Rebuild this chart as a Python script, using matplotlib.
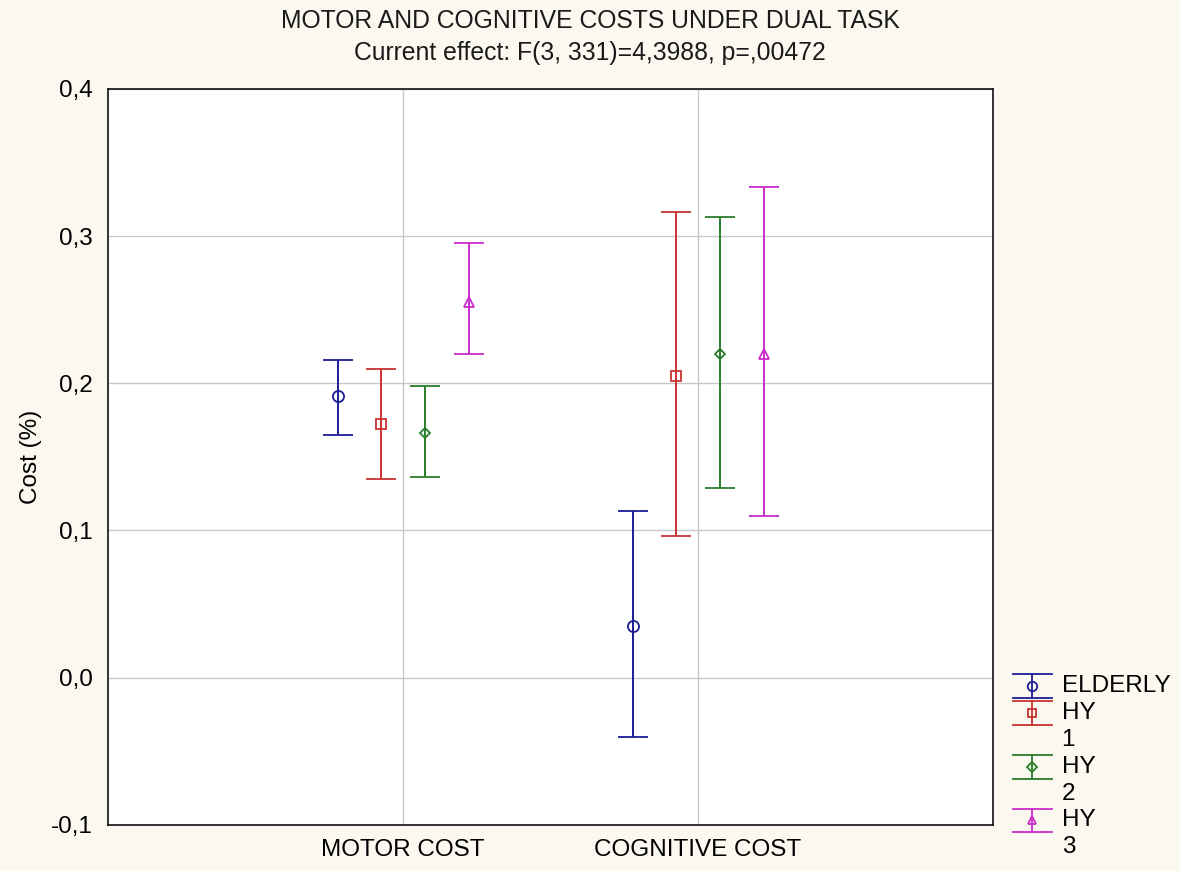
import numpy as np
import matplotlib.pyplot as plt
from matplotlib.ticker import FuncFormatter
from matplotlib.legend_handler import HandlerBase
from matplotlib.lines import Line2D

plt.rcParams['font.family'] = ['Liberation Sans', 'DejaVu Sans']

# Conditions on the x axis and group means with interval limits
categories = ['MOTOR COST', 'COGNITIVE COST']
groups = ['ELDERLY', 'HY\n1', 'HY\n2', 'HY\n3']

means = {
    'ELDERLY': [0.191, 0.035],
    'HY\n1': [0.172, 0.205],
    'HY\n2': [0.166, 0.220],
    'HY\n3': [0.255, 0.220],
}
upper = {
    'ELDERLY': [0.216, 0.113],
    'HY\n1': [0.210, 0.316],
    'HY\n2': [0.198, 0.313],
    'HY\n3': [0.295, 0.333],
}
lower = {
    'ELDERLY': [0.165, -0.040],
    'HY\n1': [0.135, 0.096],
    'HY\n2': [0.136, 0.129],
    'HY\n3': [0.220, 0.110],
}

colors = ['#1c1c96', '#c83232', '#2a7d2a', '#cc2ccc']
markers = ['o', 's', 'D', '^']
msizes = [8, 7.5, 5.5, 6.5]
offsets = [-0.22, -0.075, 0.075, 0.225]


class CapHandler(HandlerBase):
    """Legend key: two wide caps with a short stem and the marker."""
    def create_artists(self, legend, orig, xdescent, ydescent, width, height,
                       fontsize, trans):
        ln = orig.lines[0]
        c = ln.get_color()
        x0, x1 = -xdescent, -xdescent + width
        xm = (x0 + x1) / 2
        top = -ydescent + height * 1.05
        bot = -ydescent - height * 0.35
        arts = [
            Line2D([x0, x1], [top, top], color=c, lw=1.3),
            Line2D([x0, x1], [bot, bot], color=c, lw=1.3),
            Line2D([xm, xm], [bot, top], color=c, lw=1.3),
            Line2D([xm], [(top + bot) / 2], marker=ln.get_marker(), ms=ln.get_markersize() * 0.85,
                   mfc='none', mec=c, mew=1.3, ls='none'),
        ]
        for a in arts:
            a.set_transform(trans)
        return arts


fig = plt.figure(figsize=(11.8, 8.71), dpi=100)
fig.patch.set_facecolor('#fbf8ef')
ax = fig.add_axes([0.0915, 0.053, 0.75, 0.845])
ax.set_facecolor('white')

x = np.arange(1, len(categories) + 1)
conts = []
for g, c, m, ms, off in zip(groups, colors, markers, msizes, offsets):
    mu = np.array(means[g])
    err = np.vstack([mu - np.array(lower[g]), np.array(upper[g]) - mu])
    eb = ax.errorbar(x + off, mu, yerr=err, fmt=m, ls='none', color=c,
                     mfc='none', mec=c, ms=ms, mew=1.3, ecolor=c,
                     elinewidth=1.4, capsize=11, capthick=1.4)
    conts.append(eb)

ax.set_xlim(0, 3)
ax.set_ylim(-0.1, 0.4)
ax.set_xticks(x)
ax.set_xticklabels(categories)
ax.set_yticks(np.arange(-0.1, 0.41, 0.1))
ax.yaxis.set_major_formatter(FuncFormatter(lambda v, p: f'{v:.1f}'.replace('.', ',').replace('-0,0', '0,0')))
ax.tick_params(length=0, labelsize=17.5)
ax.tick_params(axis='y', pad=11)
ax.tick_params(axis='x', pad=10)
ax.grid(True, color='#c8c8c8', lw=1)
ax.set_axisbelow(True)
for s in ax.spines.values():
    s.set_linewidth(1.2)
    s.set_color('#111111')

ax.set_ylabel('Cost (%)', fontsize=17.5)
ax.yaxis.set_label_coords(-0.075, 0.5)

fig.text(0.5, 1 - 28 / 871, 'MOTOR AND COGNITIVE COSTS UNDER DUAL TASK',
         ha='center', va='baseline', fontsize=17.8, color='#1a1a1a')
fig.text(0.5, 1 - 60 / 871, 'Current effect: F(3, 331)=4,3988, p=,00472',
         ha='center', va='baseline', fontsize=17.8, color='#1a1a1a')

# each group gets one row per label line; extra lines get an empty key
blank = Line2D([], [], ls='none')
handles, labels, hmap = [], [], {}
for eb, g in zip(conts, groups):
    parts = g.split('\n')
    handles.append(eb)
    labels.append(parts[0])
    hmap[eb] = CapHandler()
    for p in parts[1:]:
        handles.append(blank)
        labels.append(p)

leg = fig.legend(handles, labels, handler_map=hmap, loc='upper left',
                 bbox_to_anchor=(1013 / 1180, 1 - 675 / 871), frameon=False,
                 fontsize=17.5, handlelength=1.6, handletextpad=0.4,
                 labelspacing=0.2, borderpad=0, borderaxespad=0)

fig.savefig('out.png', dpi=100, facecolor=fig.get_facecolor())
